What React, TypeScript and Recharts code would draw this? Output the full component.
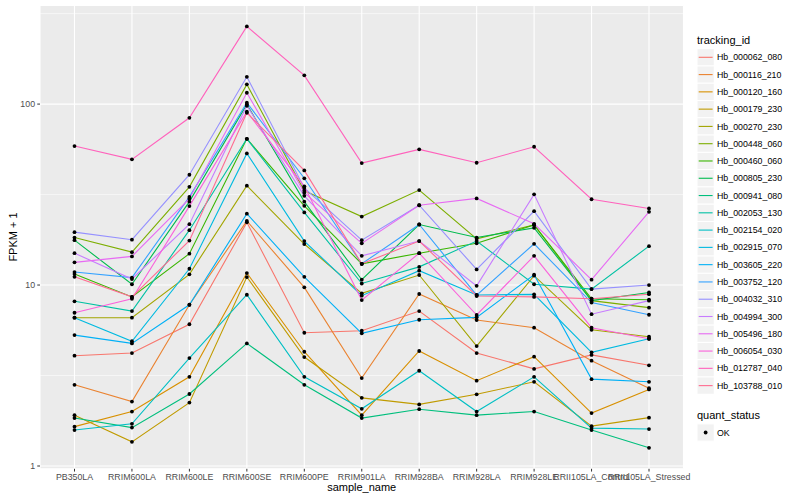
import { LineChart, Line, XAxis, YAxis, CartesianGrid, ReferenceLine } from "recharts";

const sampleNames = [
  "PB350LA",
  "RRIM600LA",
  "RRIM600LE",
  "RRIM600SE",
  "RRIM600PE",
  "RRIM901LA",
  "RRIM928BA",
  "RRIM928LA",
  "RRIM928LE",
  "RRII105LA_Control",
  "RRII105LA_Stressed",
];

const trackingIds = [
  "Hb_000062_080",
  "Hb_000116_210",
  "Hb_000120_160",
  "Hb_000179_230",
  "Hb_000270_230",
  "Hb_000448_060",
  "Hb_000460_060",
  "Hb_000805_230",
  "Hb_000941_080",
  "Hb_002053_130",
  "Hb_002154_020",
  "Hb_002915_070",
  "Hb_003605_220",
  "Hb_003752_120",
  "Hb_004032_310",
  "Hb_004994_300",
  "Hb_005496_180",
  "Hb_006054_030",
  "Hb_012787_040",
  "Hb_103788_010",
];

// ggplot default hue palette for 20 levels
const hueColours = [
  "#F8766D", "#EA8331", "#D89000", "#C09B00", "#A3A500",
  "#7CAE00", "#39B600", "#00BB4E", "#00BF7D", "#00C1A3",
  "#00BFC4", "#00BAE0", "#00B0F6", "#35A2FF", "#9590FF",
  "#C77CFF", "#E76BF3", "#FA62DB", "#FF62BC", "#FF6C91",
];

// FPKM + 1, one value per sample
const hb000062_080 = [4.07, 4.21, 6.07, 22.2, 5.45, 5.59, 7.18, 4.21, 3.44, 4.11, 3.6];
const hb000116_210 = [2.81, 2.27, 7.78, 22.6, 9.71, 3.06, 8.92, 6.41, 5.81, 3.82, 2.69];
const hb000120_160 = [1.65, 2.0, 3.11, 11.65, 4.28, 1.91, 4.32, 2.96, 4.02, 1.96, 2.65];
const hb000179_230 = [1.91, 1.36, 2.24, 11.07, 4.0, 2.38, 2.19, 2.49, 2.92, 1.66, 1.85];
const hb000270_230 = [6.6, 6.6, 11.46, 35.4, 16.85, 9.0, 11.36, 4.6, 11.26, 5.66, 5.18];
const hb000448_060 = [18.3, 15.2, 34.9, 128.5, 33.2, 23.9, 33.5, 18.0, 21.5, 8.2, 7.5];
const hb000460_060 = [11.5, 8.6, 14.9, 64.3, 27.4, 13.1, 15.0, 17.0, 21.5, 8.4, 8.3];
const hb000805_230 = [17.7, 10.1, 28.9, 99.6, 28.9, 10.7, 21.6, 18.3, 20.7, 8.2, 9.1];
const hb000941_080 = [1.84, 1.63, 2.5, 4.76, 2.81, 1.84, 2.06, 1.91, 2.0, 1.58, 1.26];
const hb002053_130 = [8.13, 7.18, 20.1, 64.3, 25.2, 10.2, 12.6, 17.5, 10.1, 9.5, 16.4];
const hb002154_020 = [1.58, 1.71, 3.95, 8.84, 3.11, 2.07, 3.36, 2.0, 3.11, 1.62, 1.6];
const hb002915_070 = [6.6, 4.89, 12.3, 53.4, 17.5, 8.73, 12.0, 8.81, 8.88, 4.25, 5.05];
const hb003605_220 = [5.29, 4.76, 7.78, 24.8, 11.1, 5.41, 6.43, 6.63, 11.4, 3.02, 2.92];
const hb003752_120 = [11.8, 11.0, 30.7, 101.7, 38.9, 13.1, 21.6, 8.8, 16.9, 8.0, 6.85];
const hb004032_310 = [19.6, 17.8, 40.7, 141.5, 34.4, 17.7, 27.6, 12.2, 25.6, 9.5, 10.0];
const hb004994_300 = [15.0, 10.8, 21.7, 97.9, 31.1, 14.5, 17.5, 9.9, 31.7, 6.9, 8.2];
const hb005496_180 = [13.35, 14.4, 30.0, 115.5, 32.4, 17.0, 27.6, 30.1, 21.8, 10.7, 25.4];
const hb006054_030 = [7.03, 8.4, 27.3, 90.7, 35.1, 8.26, 15.0, 6.83, 14.5, 5.81, 5.05];
const hb012787_040 = [58.6, 49.5, 84.0, 268.7, 144.1, 47.2, 56.2, 47.4, 58.1, 29.8, 26.5];
const hb103788_010 = [11.1, 8.6, 17.6, 89.5, 43.0, 13.1, 17.5, 8.7, 8.6, 8.4, 8.9];

const seriesValues = [
  hb000062_080, hb000116_210, hb000120_160, hb000179_230, hb000270_230,
  hb000448_060, hb000460_060, hb000805_230, hb000941_080, hb002053_130,
  hb002154_020, hb002915_070, hb003605_220, hb003752_120, hb004032_310,
  hb004994_300, hb005496_180, hb006054_030, hb012787_040, hb103788_010,
];

const majorBreaks = [1, 10, 100];
const minorBreaks = [3.162, 31.62, 316.2];

const FONT = '"Liberation Sans", Arial, Helvetica, sans-serif';

const rows = sampleNames.map((name, i) => {
  const row: Record<string, string | number> = { sample_name: name };
  trackingIds.forEach((id, k) => {
    row[id] = seriesValues[k][i];
  });
  return row;
});

const blackPoint = (p: any) => {
  if (p.cx == null || p.cy == null) return <g key={`${p.dataKey}-${p.index}`} />;
  return <circle key={`${p.dataKey}-${p.index}`} cx={p.cx} cy={p.cy} r={1.9} fill="#000" />;
};

const Legends = () => {
  const keySize = 17.28;
  const first = 57.3;
  return (
    <svg
      width={800}
      height={500}
      style={{ position: "absolute", left: 0, top: 0, pointerEvents: "none" }}
      fontFamily={FONT}
    >
      {/* axis titles */}
      <text x={361.7} y={490.5} fontSize={11} textAnchor="middle" fill="#000">
        sample_name
      </text>
      <text
        x={0}
        y={0}
        fontSize={11}
        textAnchor="middle"
        fill="#000"
        transform="translate(17,237) rotate(-90)"
      >
        FPKM + 1
      </text>

      {/* tracking_id legend */}
      <text x={697} y={43.5} fontSize={11} fill="#000">
        tracking_id
      </text>
      {trackingIds.map((id, i) => {
        const cy = first + keySize * i;
        return (
          <g key={id}>
            <rect x={697} y={cy - keySize / 2} width={keySize} height={keySize} fill="#F2F2F2" stroke="#fff" strokeWidth={1} />
            <line x1={698.7} x2={712.6} y1={cy} y2={cy} stroke={hueColours[i]} strokeWidth={1.1} />
            <text x={717} y={cy + 3.1} fontSize={8.8} fill="#000">
              {id}
            </text>
          </g>
        );
      })}

      {/* quant_status legend */}
      <text x={697} y={419} fontSize={11} fill="#000">
        quant_status
      </text>
      <rect x={697} y={432.5 - keySize / 2} width={keySize} height={keySize} fill="#F2F2F2" stroke="#fff" strokeWidth={1} />
      <circle cx={697 + keySize / 2} cy={432.5} r={1.9} fill="#000" />
      <text x={717} y={435.6} fontSize={8.8} fill="#000">
        OK
      </text>
    </svg>
  );
};

export default function App() {
  return (
    <div
      style={{
        position: "absolute",
        left: 0,
        top: 0,
        width: 800,
        height: 500,
        background: "#fff",
        fontFamily: FONT,
      }}
    >
      <LineChart
        width={800}
        height={500}
        data={rows}
        margin={{ top: 5.4, right: 116.5, bottom: 0, left: 0 }}
      >
        <CartesianGrid fill="#EBEBEB" stroke="#fff" strokeWidth={1.1} />
        {minorBreaks.map((b) => (
          <ReferenceLine key={b} y={b} stroke="#fff" strokeWidth={0.55} ifOverflow="hidden" />
        ))}
        <XAxis
          dataKey="sample_name"
          type="category"
          interval={0}
          padding={{ left: 34.5, right: 34.5 }}
          height={31.2}
          axisLine={false}
          tickLine={{ stroke: "#333333" }}
          tickSize={2.75}
          tickMargin={2.2}
          tick={{ fontSize: 8.8, fill: "#4D4D4D", fontFamily: FONT }}
        />
        <YAxis
          type="number"
          scale="log"
          domain={[0.965, 351]}
          allowDataOverflow
          ticks={majorBreaks}
          width={40}
          axisLine={false}
          tickLine={{ stroke: "#333333" }}
          tickSize={2.75}
          tickMargin={2.2}
          tick={{ fontSize: 8.8, fill: "#4D4D4D", fontFamily: FONT }}
        />
        {trackingIds.map((id, i) => (
          <Line
            key={id}
            dataKey={id}
            type="linear"
            stroke={hueColours[i]}
            strokeWidth={1.1}
            dot={false}
            activeDot={false}
            isAnimationActive={false}
          />
        ))}
        {trackingIds.map((id) => (
          <Line
            key={`${id}-pts`}
            dataKey={id}
            type="linear"
            stroke="none"
            dot={blackPoint}
            activeDot={false}
            legendType="none"
            isAnimationActive={false}
          />
        ))}
      </LineChart>
      <Legends />
    </div>
  );
}
